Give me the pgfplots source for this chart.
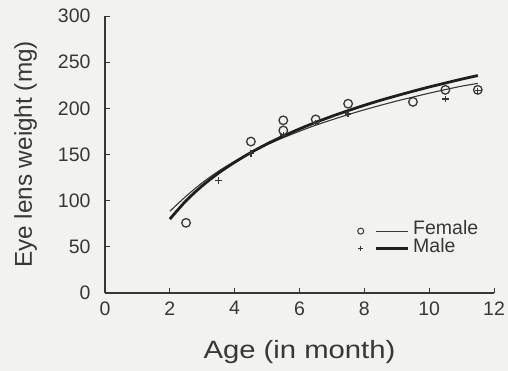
\documentclass[border=0pt]{standalone}
\usepackage{fontspec}
\setmainfont{Liberation Sans}
\newfontfamily\xlabfont{Liberation Sans}[FakeStretch=1.17]
\usepackage{pgfplots}
\pgfplotsset{compat=1.18}
\usetikzlibrary{backgrounds}
\definecolor{bg}{RGB}{242,242,238}
\definecolor{ink}{RGB}{55,55,55}
\begin{document}
\begin{tikzpicture}
\begin{axis}[
  width=389pt, height=277pt, scale only axis,
  xmin=0, xmax=12, ymin=0, ymax=300,
  axis x line=bottom, axis y line=left,
  axis line style={ink, line width=1.1pt, -},
  xtick={0,2,4,6,8,10,12}, ytick={0,50,100,150,200,250,300},
  xticklabels={0,2,4,6,8,10,12},
  yticklabels={0,50,100,150,200,250,300},
  tick align=inside, major tick length=5pt,
  tick style={ink, line width=0.9pt},
  tick label style={font=\fontsize{19.5}{22}\selectfont, text=ink},
  yticklabel style={xshift=-11pt},
  xticklabel style={yshift=-5pt},
  xlabel={Age (in month)},
  ylabel={Eye lens weight (mg)},
  xlabel style={font=\xlabfont\fontsize{25}{28}\selectfont, text=ink, at={([yshift=-66pt]rel axis cs:0.5,0)}, anchor=base},
  ylabel style={font=\fontsize{24.3}{28}\selectfont, text=ink, at={([xshift=-73pt]rel axis cs:0,0.5)}, anchor=base, rotate=0},
  legend style={at={(axis cs:7.79,80)}, anchor=north west, draw=none, fill=none, inner sep=0pt,
    font=\fontsize{19.5}{22}\selectfont, text=ink, row sep=0pt,
    nodes={inner xsep=4pt, inner ysep=1pt}},
  legend cell align=left,
]
\coordinate (ll) at (rel axis cs:0,0);
\coordinate (ur) at (rel axis cs:1,1);
% Female observations
\addplot[forget plot, only marks, mark=o, mark size=4.3pt, ink, mark options={line width=1.3pt}] coordinates {
 (2.5,76) (4.5,164) (5.5,187) (5.5,176) (6.5,188) (7.5,205) (9.5,207) (10.5,220) (11.5,220)};
% Male observations
\addplot[forget plot, only marks, mark=+, mark size=3.2pt, ink, mark options={line width=1.3pt}] coordinates {
 (3.5,122) (4.5,151) (5.5,171) (6.5,184) (7.5,194) (10.5,210) (11.5,219)};
% Female fitted curve
\addplot[forget plot, ink, line width=1.1pt, smooth] coordinates {
 (2,88.5) (2.5,104.8) (3,119.4) (3.5,131.9) (4,142.6) (4.5,152.1) (5,160.6) (5.5,168.2)
 (6,175.2) (6.5,181.7) (7,187.6) (7.5,193.2) (8,198.4) (8.5,203.3) (9,207.9) (9.5,212.2)
 (10,216.4) (10.5,220.3) (11,224.0) (11.5,227.0)};
% Male fitted curve
\addplot[forget plot, black!88, line width=2.8pt, smooth] coordinates {
 (2,80.0) (2.5,99.9) (3,116.1) (3.5,129.8) (4,141.6) (4.5,152.1) (5,161.5) (5.5,169.9)
 (6,177.7) (6.5,184.8) (7,191.4) (7.5,197.5) (8,203.3) (8.5,208.7) (9,213.7) (9.5,218.5)
 (10,223.1) (10.5,227.4) (11,231.6) (11.5,235.5)};
\addlegendimage{legend image code/.code={
  \draw[ink, line width=1pt] (15pt,-3pt) -- (47pt,-3pt);
  \draw[mark=o, mark size=3pt, ink, line width=1pt] plot coordinates {(0pt,-3pt)};}}
\addlegendentry{Female}
\addlegendimage{legend image code/.code={
  \draw[black!88, line width=3pt] (15pt,-3pt) -- (47pt,-3pt);
  \draw[mark=+, mark size=2.6pt, ink, line width=1pt] plot coordinates {(0pt,-3pt)};}}
\addlegendentry{Male}
\end{axis}
\pgfresetboundingbox
\begin{scope}[on background layer]
\fill[bg] ([shift={(-105pt,-78pt)}]ll) rectangle ([shift={(14pt,16pt)}]ur);
\end{scope}
\end{tikzpicture}
\end{document}
